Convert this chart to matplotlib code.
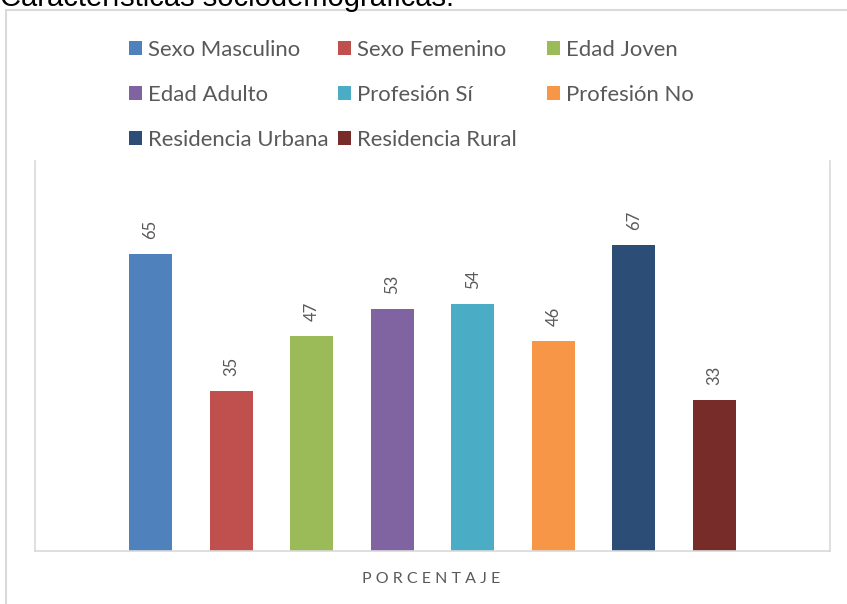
import matplotlib
matplotlib.use("Agg")
import matplotlib.pyplot as plt
from matplotlib.patches import Rectangle, Patch

# datos
series = ["Sexo Masculino", "Sexo Femenino", "Edad Joven", "Edad Adulto",
          "Profesión Sí", "Profesión No", "Residencia Urbana", "Residencia Rural"]
valores = [65, 35, 47, 53, 54, 46, 67, 33]
colores = ["#4F81BD", "#C0504D", "#9BBB59", "#8064A2",
           "#4BACC6", "#F79646", "#2C4D75", "#772C2A"]
titulo = "Características sociodemográficas."
eje_x = "PORCENTAJE"

W, H = 847, 604
fig = plt.figure(figsize=(W / 100, H / 100), dpi=100)
fig.patch.set_facecolor("white")

# borde del area del grafico (cortado a la derecha y abajo)
fig.add_artist(Rectangle((5.5 / W, -0.1), 1.2, (H - 10) / H + 0.1,
                         transform=fig.transFigure, fill=False,
                         ec="#d9d9d9", lw=1.5))

fig.text(0.0, 1 - 6 / H, titulo, fontsize=21, family="Liberation Sans",
         color="black", ha="left", va="baseline")

ax = fig.add_axes([35 / W, (H - 551) / H, 795 / W, 390 / H])
x = list(range(len(valores)))
bars = ax.bar(x, valores, width=0.533, color=colores)
ax.set_xlim(-1.433, len(valores) - 1 + 1.433)
ax.set_ylim(0, 85.3)

for b, v in zip(bars, valores):
    ax.annotate(str(v), (b.get_x() + b.get_width() / 2, v),
                xytext=(0, 15), textcoords="offset pixels",
                rotation=90, ha="center", va="bottom",
                fontsize=12, family="Lato", color="#595959")

for s in ["left", "right", "bottom"]:
    ax.spines[s].set_color("#d9d9d9")
    ax.spines[s].set_linewidth(1.2)
ax.spines["top"].set_visible(False)
ax.set_xticks([])
ax.set_yticks([])

fig.text(431 / W, 1 - 579 / H, " ".join(eje_x), fontsize=11.5, family="Lato",
         color="#595959", ha="center", va="center")

# leyenda en filas: dos primeras columnas y tercera aparte
handles = [Patch(facecolor=c, edgecolor="none") for c in colores]
opts = dict(loc="upper left", frameon=False,
            prop={"family": "Lato", "size": 15.9}, labelcolor="#595959",
            handlelength=0.59, handleheight=0.59, handletextpad=0.28,
            columnspacing=0.4, labelspacing=1.13, borderpad=0,
            borderaxespad=0)
orden_a = [0, 3, 6, 1, 4, 7]
leg_a = fig.legend([handles[i] for i in orden_a], [series[i] for i in orden_a],
                   ncol=2, bbox_to_anchor=(129 / W, 1 - 40 / H), **opts)
orden_b = [2, 5]
leg_b = fig.legend([handles[i] for i in orden_b], [series[i] for i in orden_b],
                   ncol=1, bbox_to_anchor=(547 / W, 1 - 40 / H), **opts)

fig.savefig("out.png", dpi=100)
